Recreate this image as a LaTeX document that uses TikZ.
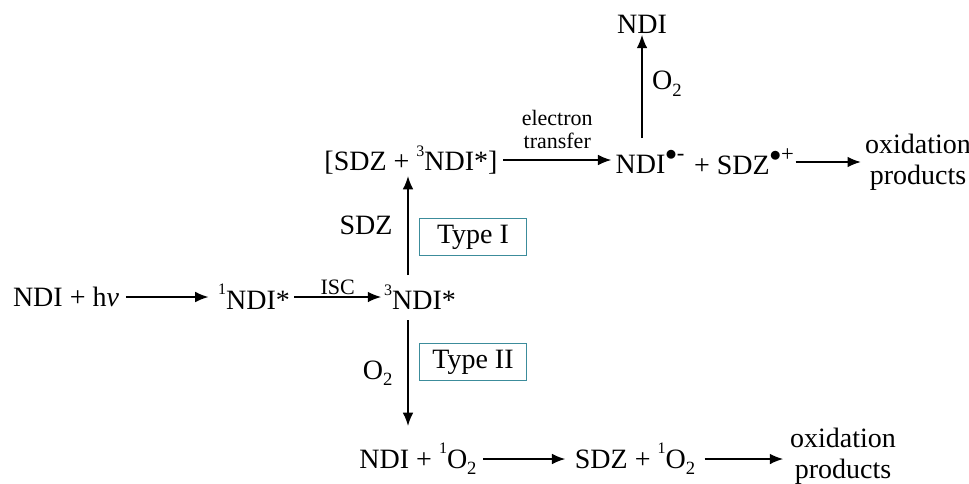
\documentclass[tikz,border=0pt]{standalone}
\usepackage{fontspec}
\setmainfont{Liberation Serif}
\usetikzlibrary{arrows.meta}
\definecolor{boxteal}{RGB}{60,140,155}
\newcommand{\upscr}[1]{\raisebox{0.52em}{\fontsize{12}{12}\selectfont #1}}
\newcommand{\radscr}[1]{\raisebox{0.48em}{\fontsize{17}{17}\selectfont #1}}
\newcommand{\downscr}[1]{\raisebox{-0.22em}{\fontsize{14}{14}\selectfont #1}}
\tikzset{
  species/.style={inner sep=1pt,font=\fontsize{21}{23}\selectfont},
  small/.style={inner sep=1pt,font=\fontsize{16.5}{17}\selectfont},
  typebox/.style={draw=boxteal,line width=1pt,minimum width=80pt,minimum height=28pt,
    font=\fontsize{21}{23}\selectfont},
  reac/.style={->,line width=1.2pt},
  >={Latex[length=10pt,width=8pt]}
}
\begin{document}
\begin{tikzpicture}[x=0.75pt,y=-0.75pt]
\useasboundingbox (0,0) rectangle (969,483);
% excitation and intersystem crossing
\node[species] (start) at (66,297) {NDI + h\textit{v}};
\node[species] (singlet) at (254,297) {\upscr{1}NDI*};
\node[species] (triplet) at (420,297) {\upscr{3}NDI*};
\draw[reac] ([xshift=4pt]start.east) -- ([xshift=-6pt]singlet.west);
\draw[reac] ([xshift=2pt]singlet.east) -- ([xshift=-1pt]singlet.east -| triplet.west)
  node[small,midway,above] {ISC};
% type I
\node[species] (complex) at (411,160) {[SDZ + \upscr{3}NDI*]};
\node[species] (ndirad) at (650,162) {NDI\radscr{$\bullet$-}};
\node[species] (sdzrad) at (744,162) {+ SDZ\radscr{$\bullet$+}};
\node[species,align=center] (oxone) at (918,162) {oxidation\\products};
\node[species] (ndi) at (642,24) {NDI};
\node[typebox] (typeone) at (473,237) {Type I};
\coordinate (upfoot) at (408,275);
\coordinate (uphead) at (408,176);
\coordinate (radtop) at (642,138);
\draw[reac] (upfoot) -- (uphead) node[species,midway,left=10pt] {SDZ};
\draw[reac] ([xshift=3pt]complex.east) -- ([xshift=-2pt]complex.east -| ndirad.west)
  node[small,midway,above,align=center,yshift=7pt] {electron\\transfer};
\draw[reac] (radtop) -- (ndi.south) node[species,midway,right=6pt,yshift=2pt] {O\downscr{2}};
\draw[reac] (sdzrad.east) -- ([xshift=-2pt]sdzrad.east -| oxone.west);
% type II
\node[typebox] (typetwo) at (473,362) {Type II};
\node[species] (singox) at (418,459) {NDI + \upscr{1}O\downscr{2}};
\node[species] (sdzox) at (635,459) {SDZ + \upscr{1}O\downscr{2}};
\node[species,align=center] (oxtwo) at (843,456) {oxidation\\products};
\coordinate (downfoot) at (408,320);
\coordinate (downhead) at (408,426);
\draw[reac] (downfoot) -- (downhead) node[species,midway,left=10pt] {O\downscr{2}};
\draw[reac] ([xshift=4pt]singox.east) -- ([xshift=-6pt]singox.east -| sdzox.west);
\draw[reac] ([xshift=6pt]sdzox.east) -- ([xshift=-4pt]sdzox.east -| oxtwo.west);
\end{tikzpicture}
\end{document}
